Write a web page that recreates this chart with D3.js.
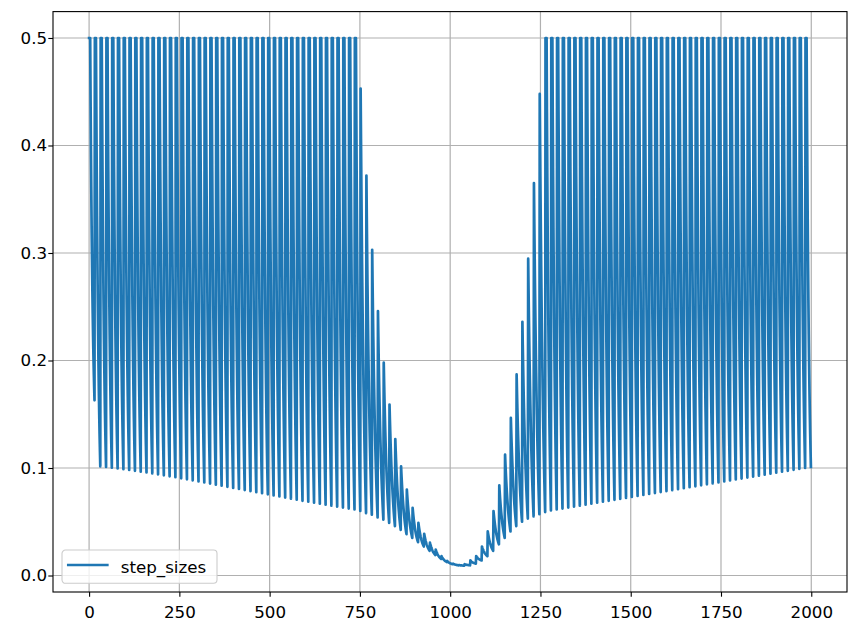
<!DOCTYPE html>
<html>
<head>
<meta charset="utf-8">
<script src="https://cdn.jsdelivr.net/npm/d3@7"></script>
<style>
  body { margin: 0; background: #fff; }
  svg text { font-family: "DejaVu Sans", sans-serif; }
</style>
</head>
<body>
<div id="chart"></div>
<script>
// series name and ticks
const seriesName = "step_sizes";
const xTicks = [0, 250, 500, 750, 1000, 1250, 1500, 1750, 2000];
const yTicks = [0.0, 0.1, 0.2, 0.3, 0.4, 0.5];

// the step size is reset every 16 steps and then decays to a floor
const cycleLength = 16;
const stepCap = 0.5;

// value right after each reset (one per cycle)
const peaks = [
  0.5, 0.5, 0.5, 0.5, 0.5, 0.5, 0.5, 0.5, 0.5, 0.5,
  0.5, 0.5, 0.5, 0.5, 0.5, 0.5, 0.5, 0.5, 0.5, 0.5,
  0.5, 0.5, 0.5, 0.5, 0.5, 0.5, 0.5, 0.5, 0.5, 0.5,
  0.5, 0.5, 0.5, 0.5, 0.5, 0.5, 0.5, 0.5, 0.5, 0.5,
  0.5, 0.5, 0.5, 0.5, 0.5, 0.5, 0.5, 0.453, 0.372, 0.303,
  0.246, 0.198, 0.159, 0.127, 0.1015, 0.080, 0.063, 0.049, 0.0388, 0.0305,
  0.024, 0.018, 0.0135, 0.011, 0.0097, 0.0105, 0.014, 0.018, 0.027, 0.041,
  0.060, 0.0838, 0.1124, 0.1466, 0.187, 0.236, 0.2947, 0.365, 0.448, 0.5,
  0.5, 0.5, 0.5, 0.5, 0.5, 0.5, 0.5, 0.5, 0.5, 0.5,
  0.5, 0.5, 0.5, 0.5, 0.5, 0.5, 0.5, 0.5, 0.5, 0.5,
  0.5, 0.5, 0.5, 0.5, 0.5, 0.5, 0.5, 0.5, 0.5, 0.5,
  0.5, 0.5, 0.5, 0.5, 0.5, 0.5, 0.5, 0.5, 0.5, 0.5,
  0.5, 0.5, 0.5, 0.5, 0.5
];

// value at the last step of each cycle, just before the next reset
const troughs = [
  0.163, 0.1015, 0.1010, 0.1003, 0.0996, 0.0989, 0.0982, 0.0974, 0.0966, 0.0958,
  0.0950, 0.0941, 0.0932, 0.0923, 0.0914, 0.0904, 0.0895, 0.0885, 0.0875, 0.0865,
  0.0855, 0.0845, 0.0835, 0.0825, 0.0815, 0.0805, 0.0795, 0.0785, 0.0775, 0.0765,
  0.0755, 0.0745, 0.0735, 0.0725, 0.0715, 0.0705, 0.0695, 0.0686, 0.0677, 0.0668,
  0.0659, 0.0650, 0.0641, 0.0632, 0.0623, 0.0614, 0.0600, 0.058, 0.0565, 0.054,
  0.052, 0.049, 0.046, 0.0425, 0.0385, 0.035, 0.031, 0.027, 0.023, 0.019,
  0.0155, 0.0125, 0.0105, 0.0095, 0.0092, 0.0095, 0.011, 0.014, 0.018, 0.023,
  0.029, 0.035, 0.041, 0.046, 0.050, 0.053, 0.055, 0.057, 0.059, 0.0605,
  0.0614, 0.0623, 0.0632, 0.0641, 0.0650, 0.0659, 0.0668, 0.0677, 0.0686, 0.0695,
  0.0704, 0.0713, 0.0722, 0.0731, 0.0740, 0.0749, 0.0758, 0.0767, 0.0776, 0.0785,
  0.0794, 0.0803, 0.0812, 0.0821, 0.0830, 0.0839, 0.0848, 0.0857, 0.0866, 0.0875,
  0.0884, 0.0893, 0.0902, 0.0911, 0.0920, 0.0929, 0.0938, 0.0947, 0.0956, 0.0965,
  0.0974, 0.0983, 0.0992, 0.1001, 0.1010
];

// share of a cycle's drop still left at each step after a reset:
// cycles that hit the 0.5 cap sit there a few steps before falling,
// the smaller spikes in the middle fall from the first step on
const cappedShape = [1, 1, 1, 1, 0.843, 0.706, 0.587, 0.482, 0.39, 0.31, 0.24, 0.178, 0.125, 0.078, 0.037, 0];
const spikeShape = [1, 0.882, 0.775, 0.677, 0.588, 0.507, 0.432, 0.365, 0.303, 0.247, 0.196, 0.149, 0.107, 0.068, 0.032, 0];

// build the step series from the cycles
const points = [];
peaks.forEach((peak, k) => {
  const shape = peak >= stepCap ? cappedShape : spikeShape;
  shape.forEach((left, j) => {
    points.push([k * cycleLength + j, troughs[k] + (peak - troughs[k]) * left]);
  });
});

const WIDTH = 859;
const HEIGHT = 635;
const box = { left: 53, right: 847, top: 11.6, bottom: 592 };
const blue = "#1f77b4";
const fontSize = 16.7;

const svg = d3
  .select("#chart")
  .append("svg")
  .attr("width", WIDTH)
  .attr("height", HEIGHT);

// matplotlib style 5% margins
const xExt = d3.extent(points, (d) => d[0]);
const yExt = d3.extent(points, (d) => d[1]);
const xPad = (xExt[1] - xExt[0]) * 0.05;
const yPad = (yExt[1] - yExt[0]) * 0.05;

const x = d3
  .scaleLinear()
  .domain([xExt[0] - xPad, xExt[1] + xPad])
  .range([box.left, box.right]);

const y = d3
  .scaleLinear()
  .domain([yExt[0] - yPad, yExt[1] + yPad])
  .range([box.bottom, box.top]);

// grid
const grid = svg.append("g");
grid
  .selectAll("line.gx")
  .data(xTicks)
  .join("line")
  .attr("class", "gx")
  .attr("x1", (d) => x(d))
  .attr("x2", (d) => x(d))
  .attr("y1", box.top)
  .attr("y2", box.bottom)
  .attr("stroke", "#b0b0b0")
  .attr("stroke-width", 1.2);
grid
  .selectAll("line.gy")
  .data(yTicks)
  .join("line")
  .attr("class", "gy")
  .attr("x1", box.left)
  .attr("x2", box.right)
  .attr("y1", (d) => y(d))
  .attr("y2", (d) => y(d))
  .attr("stroke", "#b0b0b0")
  .attr("stroke-width", 1.2);

// the series
const line = d3
  .line()
  .x((d) => x(d[0]))
  .y((d) => y(d[1]));

svg
  .append("path")
  .datum(points)
  .attr("d", line)
  .attr("fill", "none")
  .attr("stroke", blue)
  .attr("stroke-width", 2.7)
  .attr("stroke-linejoin", "round")
  .attr("stroke-linecap", "square");

// axes
const xAxis = svg
  .append("g")
  .attr("transform", `translate(0,${box.bottom})`)
  .call(d3.axisBottom(x).tickValues(xTicks).tickSize(4.7).tickPadding(9.6).tickFormat(d3.format("d")));

const yAxis = svg
  .append("g")
  .attr("transform", `translate(${box.left},0)`)
  .call(d3.axisLeft(y).tickValues(yTicks).tickSize(4.7).tickPadding(1.2).tickFormat(d3.format(".1f")));

[xAxis, yAxis].forEach((a) => {
  a.select(".domain").remove();
  a.attr("font-size", fontSize).attr("font-family", '"DejaVu Sans", sans-serif');
  a.selectAll(".tick line").attr("stroke", "#000").attr("stroke-width", 1.1);
  a.selectAll(".tick text").attr("fill", "#000");
});

// frame
svg
  .append("rect")
  .attr("x", box.left)
  .attr("y", box.top)
  .attr("width", box.right - box.left)
  .attr("height", box.bottom - box.top)
  .attr("fill", "none")
  .attr("stroke", "#000")
  .attr("stroke-width", 1.1);

// legend
const legend = svg.append("g").attr("transform", "translate(62,550)");
legend
  .append("rect")
  .attr("width", 155)
  .attr("height", 33.3)
  .attr("rx", 3.5)
  .attr("fill", "#fff")
  .attr("fill-opacity", 0.8)
  .attr("stroke", "#cccccc")
  .attr("stroke-width", 1.1);
legend
  .append("line")
  .attr("x1", 6.3)
  .attr("x2", 45.3)
  .attr("y1", 15)
  .attr("y2", 15)
  .attr("stroke", blue)
  .attr("stroke-width", 2.7)
  .attr("stroke-linecap", "square");
legend
  .append("text")
  .attr("x", 58.7)
  .attr("y", 23.3)
  .attr("font-size", fontSize)
  .attr("fill", "#000")
  .text(seriesName);
</script>
</body>
</html>
